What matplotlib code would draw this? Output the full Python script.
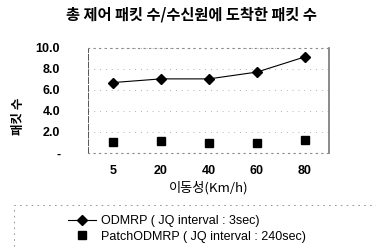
import matplotlib.pyplot as plt
from matplotlib.patches import Rectangle

plt.rcParams['font.family'] = ['Noto Sans CJK KR', 'DejaVu Sans']

speeds = ["5", "20", "40", "60", "80"]
odmrp = [6.7, 7.05, 7.05, 7.7, 9.15]
patch_odmrp = [1.05, 1.15, 0.95, 0.95, 1.25]
y_ticks = [0, 2, 4, 6, 8, 10]
y_labels = ["-", "2.0", "4.0", "6.0", "8.0", "10.0"]

fig = plt.figure(figsize=(3.76, 2.47), dpi=100)
ax = fig.add_axes([0.234, 0.381, 0.641, 0.425])

x = range(len(speeds))
ax.plot(x, odmrp, color="black", lw=0.8, marker="D", markersize=5.5,
        label="ODMRP ( JQ interval : 3sec)")
ax.plot(x, patch_odmrp, color="black", lw=0, marker="s", markersize=6,
        label="PatchODMRP ( JQ interval : 240sec)")

ax.set_xlim(-0.52, 4.5)
ax.set_ylim(0, 10)
ax.set_xticks(list(x))
ax.set_xticklabels(speeds)
ax.set_yticks(y_ticks)
ax.set_yticklabels(y_labels)
ax.tick_params(length=0, labelsize=9, pad=9)
for lab in ax.get_xticklabels() + ax.get_yticklabels():
    lab.set_fontweight("bold")
    lab.set_family(["Liberation Sans", "DejaVu Sans"])
ax.tick_params(axis="y", pad=20)

ax.grid(axis="y", color="#999999", lw=0.6, ls=(0, (1, 6)))
for side in ["top", "bottom"]:
    ax.spines[side].set_linestyle((0, (1, 4)))
    ax.spines[side].set_color("#888888")
ax.spines["left"].set_color("#555555")
ax.spines["left"].set_linewidth(0.7)
ax.spines["left"].set_linestyle((0, (6, 2)))
ax.spines["right"].set_color("#777777")
ax.spines["right"].set_linewidth(1.2)

fig.text(0.51, 0.94, "총 제어 패킷 수/수신원에 도착한 패킷 수", ha="center", va="center",
         fontsize=11, fontweight="bold")
ax.set_ylabel("패킷 수", fontsize=9, fontweight="bold")
ax.yaxis.set_label_coords(-0.26, 0.35)
ax.set_xlabel("이동성(Km/h)", fontsize=9.5, labelpad=3)

fig.patches.append(Rectangle((0.037, -0.1), 1.1, 0.27, transform=fig.transFigure,
                             fill=False, ec="#888888", lw=0.6, ls=(0, (2, 5))))
fig.legend(loc="upper left", bbox_to_anchor=(0.165, 0.155), frameon=False,
           handlelength=2.2, handletextpad=0.4, labelspacing=0.3,
           borderpad=0, prop={"family": ["Liberation Sans", "DejaVu Sans"], "size": 9})

fig.savefig("out.png", dpi=100)
